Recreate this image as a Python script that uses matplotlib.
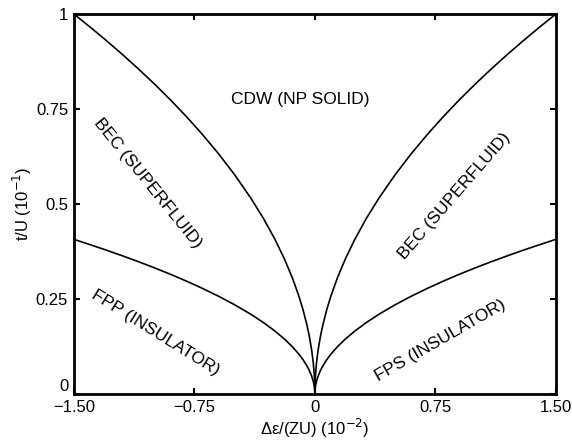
import matplotlib
matplotlib.use("Agg")
import matplotlib.pyplot as plt
import numpy as np

plt.rcParams["font.family"] = ["Liberation Sans", "DejaVu Sans"]

# right-hand branch of each phase boundary (mirrored for the left side)
x_pts = [0, 0.001, 0.004, 0.01, 0.02, 0.035, 0.05, 0.075, 0.1, 0.14, 0.19, 0.25,
         0.32, 0.4, 0.5, 0.6, 0.7, 0.8, 0.9, 1.0, 1.1, 1.2, 1.3, 1.4, 1.5]
upper_y = [0, 0.0258, 0.0516, 0.0816, 0.1155, 0.1528, 0.1826, 0.2236, 0.2582,
           0.3055, 0.3559, 0.4082, 0.4619, 0.5164, 0.5774, 0.6325, 0.6831,
           0.7303, 0.7746, 0.8165, 0.8563, 0.8944, 0.9309, 0.9661, 1.0]
lower_y = [0, 0.0105, 0.0210, 0.0332, 0.0470, 0.0622, 0.0743, 0.0910, 0.1051,
           0.1243, 0.1449, 0.1661, 0.1880, 0.2102, 0.2350, 0.2574, 0.2780,
           0.2972, 0.3153, 0.3323, 0.3485, 0.3640, 0.3789, 0.3932, 0.407]

x_ticks = [-1.5, -0.75, 0, 0.75, 1.5]
x_ticklabels = ["\u22121.50", "\u22120.75", "0", "0.75", "1.50"]
y_ticks = [0, 0.25, 0.5, 0.75, 1]
y_ticklabels = ["0", "0.25", "0.5", "0.75", "1"]

labels = [
    ("CDW (NP SOLID)", -0.09, 0.775, 0),
    ("BEC (SUPERFLUID)", -1.04, 0.555, -51),
    ("FPP (INSULATOR)", -0.99, 0.16, -32),
    ("BEC (SUPERFLUID)", 0.87, 0.52, 49),
    ("FPS (INSULATOR)", 0.78, 0.14, 30),
]

fig = plt.figure(figsize=(5.72, 4.45), dpi=100)
ax = fig.add_axes([0.129, 0.1146, 0.843, 0.854])

xr = np.array(x_pts)
for ys in (upper_y, lower_y):
    ax.plot(xr, ys, color="black", lw=1.2)
    ax.plot(-xr, ys, color="black", lw=1.2)

for txt, x, y, rot in labels:
    ax.text(x, y, txt, rotation=rot, ha="center", va="center",
            fontsize=12.5, rotation_mode="anchor")

ax.set_xlim(-1.5, 1.5)
ax.set_ylim(0, 1)
ax.set_xticks(x_ticks)
ax.set_xticklabels(x_ticklabels)
ax.set_yticks(y_ticks)
ax.set_yticklabels(y_ticklabels)
ax.tick_params(direction="in", length=4, width=1.5, top=True, right=True,
               labelsize=12, pad=4)
ax.get_yticklabels()[0].set_va("bottom")
for s in ax.spines.values():
    s.set_linewidth(2)

ax.set_xlabel("\u0394\u03b5/(ZU) (10$^{-2}$)", fontsize=12, labelpad=2)
ax.set_ylabel("t/U (10$^{-1}$)", fontsize=12, labelpad=1)

fig.savefig("out.png", dpi=100)
